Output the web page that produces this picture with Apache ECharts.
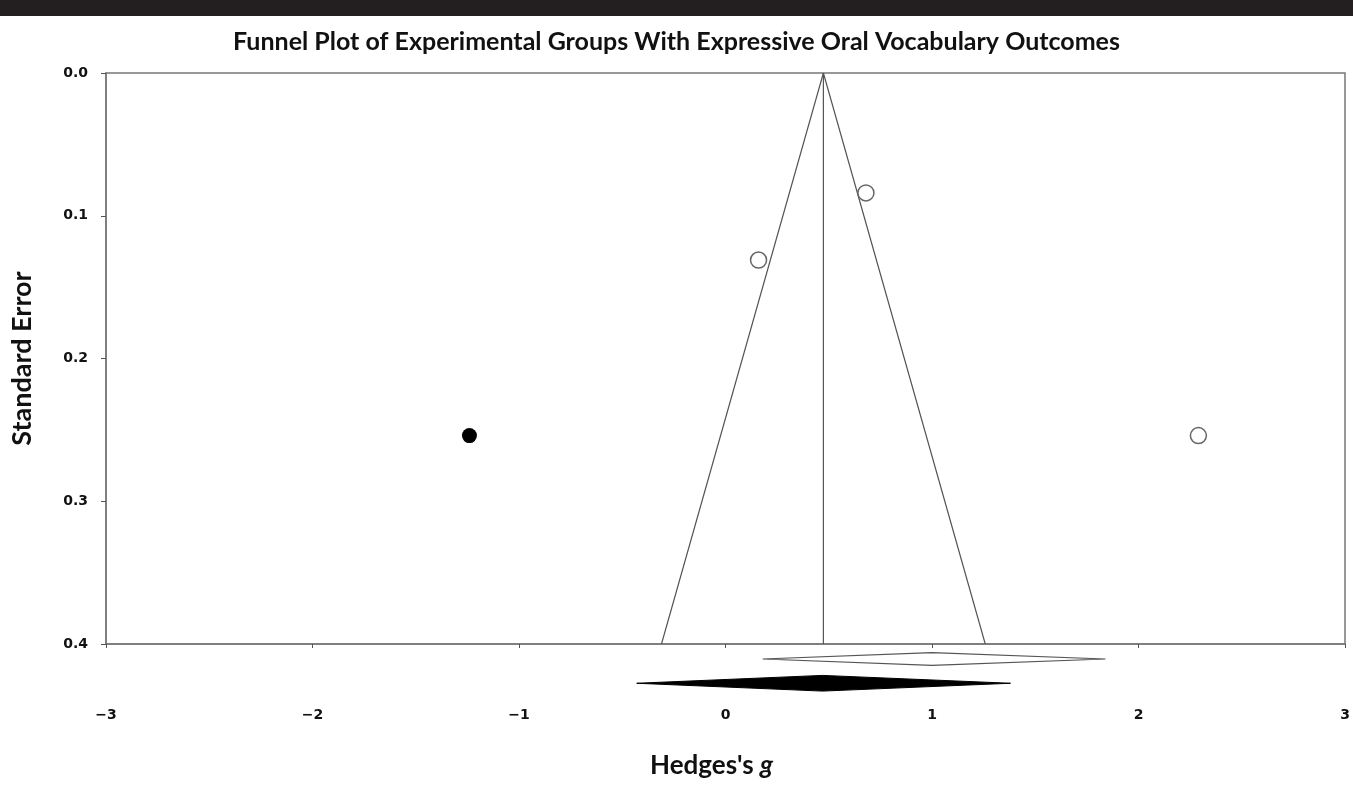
<!DOCTYPE html>
<html>
<head>
<meta charset="utf-8">
<script src="https://cdn.jsdelivr.net/npm/echarts@6/dist/echarts.min.js"></script>
<style>
html, body { margin: 0; padding: 0; background: #fff; }
#chart { width: 1353px; height: 790px; }
</style>
</head>
<body>
<div id="chart"></div>
<script>
// observed studies (Hedges's g, standard error)
let studyG = [0.68, 0.16, 2.29];
let studySE = [0.084, 0.131, 0.254];
// imputed study from trim and fill
let imputedG = [-1.24];
let imputedSE = [0.254];
// funnel outline and mean line
let funnelG = [-0.31, 0.474, 1.258];
let funnelSE = [0.4, 0, 0.4];
let meanG = [0.474, 0.474];
let meanSE = [0, 0.4];
// summary diamonds: lower, point, upper
let observedSummary = [0.18, 1.0, 1.84];
let adjustedSummary = [-0.43, 0.47, 1.38];
let xTicks = [-3, -2, -1, 0, 1, 2, 3];
let yTicks = [0.0, 0.1, 0.2, 0.3, 0.4];

let chart = echarts.init(document.getElementById('chart'));

function pairs(xs, ys) {
	return xs.map(function (x, i) { return [x, ys[i]]; });
}

function diamond(level, half, fill) {
	return function (params, api) {
		let l = api.coord([api.value(0), level]);
		let m = api.coord([api.value(1), level - half]);
		let r = api.coord([api.value(2), level]);
		let b = api.coord([api.value(1), level + half]);
		return {
			type: 'polygon',
			shape: { points: [l, m, r, b] },
			style: fill ? { fill: '#000', stroke: '#000', lineWidth: 1 } : { fill: '#fff', stroke: '#555', lineWidth: 1.2 }
		};
	};
}

let lineStyle = { color: '#555', width: 1.2 };

option = {
	backgroundColor: '#fff',
	animation: false,
	graphic: [{
		type: 'rect',
		shape: { x: 0, y: 0, width: 1353, height: 16 },
		style: { fill: '#231f20' }
	}],
	title: [{
		text: 'Funnel Plot of Experimental Groups With Expressive Oral Vocabulary Outcomes',
		left: 'center',
		top: 24,
		textStyle: { fontFamily: 'Lato', fontWeight: 'bold', fontSize: 25, color: '#111' }
	}, {
		text: "{a|Hedges's }{b|g}",
		left: 645,
		top: 748,
		textStyle: {
			rich: {
				a: { fontFamily: 'Lato', fontWeight: 'bold', fontSize: 26, color: '#111' },
				b: { fontFamily: 'Lato', fontWeight: 'bold', fontStyle: 'italic', fontSize: 26, color: '#111' }
			}
		}
	}],
	grid: {
		left: 106, right: 8, top: 73, bottom: 146,
		show: true, borderColor: '#777', borderWidth: 1.5
	},
	xAxis: {
		type: 'value',
		min: -3, max: 3, interval: 1,
		axisLine: { show: true, onZero: false, lineStyle: { color: '#777', width: 1.5 } },
		axisTick: { show: true, length: 4, lineStyle: { color: '#555' } },
		splitLine: { show: false },
		axisLabel: {
			margin: 64,
			fontFamily: 'DejaVu Sans', fontWeight: 'bold', fontSize: 14, color: '#111',
			formatter: function (v) { return xTicks.indexOf(v) >= 0 ? String(v).replace('-', '\u2212') : ''; }
		}
	},
	yAxis: {
		type: 'value',
		inverse: true,
		min: 0, max: 0.4, interval: 0.1,
		name: 'Standard Error',
		nameLocation: 'middle',
		nameGap: 70,
		nameRotate: 90,
		nameTextStyle: { fontFamily: 'Lato', fontWeight: 'bold', fontSize: 27, color: '#111' },
		axisLine: { show: true, onZero: false, lineStyle: { color: '#777', width: 1.5 } },
		axisTick: { show: true, length: 5, lineStyle: { color: '#555' } },
		splitLine: { show: false },
		axisLabel: {
			margin: 18,
			fontFamily: 'DejaVu Sans', fontWeight: 'bold', fontSize: 14, color: '#111',
			formatter: function (v) { return yTicks.indexOf(+v.toFixed(1)) >= 0 ? v.toFixed(1) : ''; }
		}
	},
	series: [{
		type: 'line',
		data: pairs(funnelG, funnelSE),
		symbol: 'none',
		lineStyle: lineStyle
	}, {
		type: 'line',
		data: pairs(meanG, meanSE),
		symbol: 'none',
		lineStyle: lineStyle
	}, {
		type: 'scatter',
		data: pairs(studyG, studySE),
		symbol: 'circle',
		symbolSize: 16,
		itemStyle: { color: '#fff', borderColor: '#666', borderWidth: 1.5, opacity: 1 },
		z: 5
	}, {
		type: 'scatter',
		data: pairs(imputedG, imputedSE),
		symbol: 'circle',
		symbolSize: 15,
		itemStyle: { color: '#000', opacity: 1 },
		z: 5
	}, {
		type: 'custom',
		clip: false,
		data: [observedSummary],
		renderItem: diamond(0.4105, 0.0045, false)
	}, {
		type: 'custom',
		clip: false,
		data: [adjustedSummary],
		renderItem: diamond(0.4275, 0.0055, true)
	}]
};

chart.setOption(option, true);
</script>
</body>
</html>
